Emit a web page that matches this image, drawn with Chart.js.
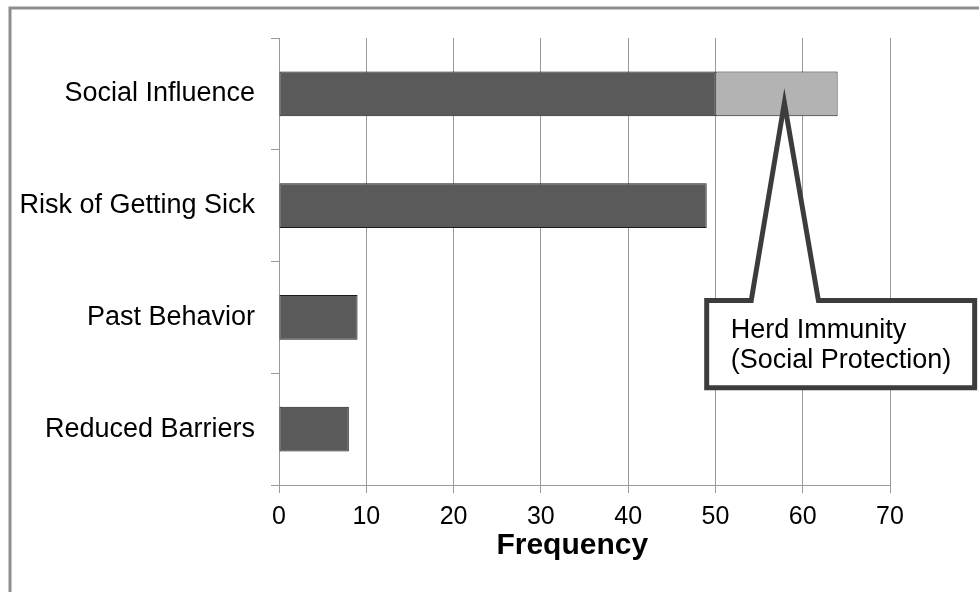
<!DOCTYPE html>
<html>
<head>
<meta charset="utf-8">
<script src="https://cdn.jsdelivr.net/npm/chart.js@4/dist/chart.umd.min.js"></script>
<style>
	html, body { margin: 0; padding: 0; background: #fff; }
	canvas { display: block; }
</style>
</head>
<body>
<canvas id="freqChart" width="979" height="592"></canvas>
<script>
// data
let	categories	= [ 'Social Influence', 'Risk of Getting Sick', 'Past Behavior', 'Reduced Barriers' ];
let	baseCounts	= [ 50, 49, 9, 8 ];
let	herdCounts	= [ 14, 0, 0, 0 ];
let	xTicks		= [ 0, 10, 20, 30, 40, 50, 60, 70 ];
let	axisTitle	= 'Frequency';
let	calloutText	= [ 'Herd Immunity', '(Social Protection)' ];

const	FONT	= '"Liberation Sans", Arial, sans-serif';

/****************************
 ****	frame + callout
 ****************************/

const	framePlugin = {
	id: 'frame',
	beforeDraw: function ( chart ) {
		let ctx	= chart.ctx;
		ctx.save();
		ctx.fillStyle	= '#fff';
		ctx.fillRect( 0, 0, chart.width, chart.height );
		ctx.strokeStyle	= '#8e8e8e';
		ctx.lineWidth	= 3;
		ctx.beginPath();
		ctx.moveTo( 10, chart.height );
		ctx.lineTo( 10, 8 );
		ctx.lineTo( chart.width, 8 );
		ctx.stroke();
		ctx.restore();
	}
};

const	calloutPlugin = {
	id: 'callout',
	afterDraw: function ( chart ) {
		let	xs	= chart.scales.x;
		let	ys	= chart.scales.y;
		let	ctx	= chart.ctx;

		// axis title, sits a little left of the plot centre
		ctx.save();
		ctx.fillStyle	= '#000';
		ctx.font		= 'bold 30px ' + FONT;
		ctx.textAlign	= 'center';
		ctx.textBaseline	= 'middle';
		ctx.fillText( axisTitle, xs.getPixelForValue( 33.6 ), xs.bottom - 46 );
		ctx.restore();

		// anchored on the light part of the first bar
		let	tipX	= xs.getPixelForValue( 57.9 );
		let	tipY	= ys.getPixelForValue( 0.08 );
		let	left	= xs.getPixelForValue( 49.0 );
		let	right	= xs.getPixelForValue( 79.7 );
		let	top		= ys.getPixelForValue( 1.85 );
		let	bottom	= ys.getPixelForValue( 2.63 );
		let	baseL	= xs.getPixelForValue( 54.1 );
		let	baseR	= xs.getPixelForValue( 61.8 );

		ctx.save();
		ctx.beginPath();
		ctx.moveTo( left, top );
		ctx.lineTo( baseL, top );
		ctx.lineTo( tipX, tipY );
		ctx.lineTo( baseR, top );
		ctx.lineTo( right, top );
		ctx.lineTo( right, bottom );
		ctx.lineTo( left, bottom );
		ctx.closePath();
		ctx.fillStyle	= '#fff';
		ctx.fill();
		ctx.lineWidth	= 5;
		ctx.lineJoin	= 'miter';
		ctx.strokeStyle	= '#3c3c3c';
		ctx.stroke();

		ctx.fillStyle	= '#000';
		ctx.font		= '27px ' + FONT;
		ctx.textAlign	= 'left';
		ctx.textBaseline	= 'alphabetic';
		ctx.fillText( calloutText[ 0 ], left + 24, top + 37 );
		ctx.fillText( calloutText[ 1 ], left + 24, top + 67 );
		ctx.restore();
	}
};

/****************************
 ****	chart
 ****************************/

window.addEventListener( 'load', function () {
	let	ctx	= document.getElementById( 'freqChart' );

	new Chart( ctx, {
		type: 'bar',
		data: {
			labels: categories,
			datasets: [
				{
					label: 'base',
					data: baseCounts,
					backgroundColor: '#5a5a5a',
					borderColor: '#1a1a1a',
					borderWidth: 1,
					borderSkipped: false,
				},
				{
					label: 'herd',
					data: herdCounts,
					backgroundColor: '#b3b3b3',
					borderColor: '#1a1a1a',
					borderWidth: 1,
					borderSkipped: false,
				},
			],
		},
		options: {
			indexAxis: 'y',
			responsive: false,
			animation: false,
			events: [],
			categoryPercentage: 1,
			barPercentage: 0.4,
			layout: {
				padding: { left: 12, right: 89, top: 38, bottom: 0 },
			},
			plugins: {
				legend: { display: false },
				tooltip: { enabled: false },
			},
			scales: {
				x: {
					type: 'linear',
					stacked: true,
					min: 0,
					max: 70,
					afterFit: function ( scale ) { scale.height = 107; },
					afterBuildTicks: function ( scale ) {
						scale.ticks = xTicks.map( v => ( { value: v } ) );
					},
					ticks: {
						color: '#000',
						font: { family: FONT, size: 25 },
						padding: 9,
					},
					grid: {
						color: '#9a9a9a',
						lineWidth: 1,
						tickLength: 8,
					},
					border: { color: '#9a9a9a' },
				},
				y: {
					stacked: true,
					afterFit: function ( scale ) { scale.width = 267; },
					ticks: {
						color: '#000',
						font: { family: FONT, size: 27 },
						padding: 16,
					},
					grid: {
						offset: true,
						drawOnChartArea: false,
						color: '#9a9a9a',
						tickLength: 8,
					},
					border: { color: '#9a9a9a' },
				},
			},
		},
		plugins: [ framePlugin, calloutPlugin ],
	});
});
</script>
</body>
</html>
